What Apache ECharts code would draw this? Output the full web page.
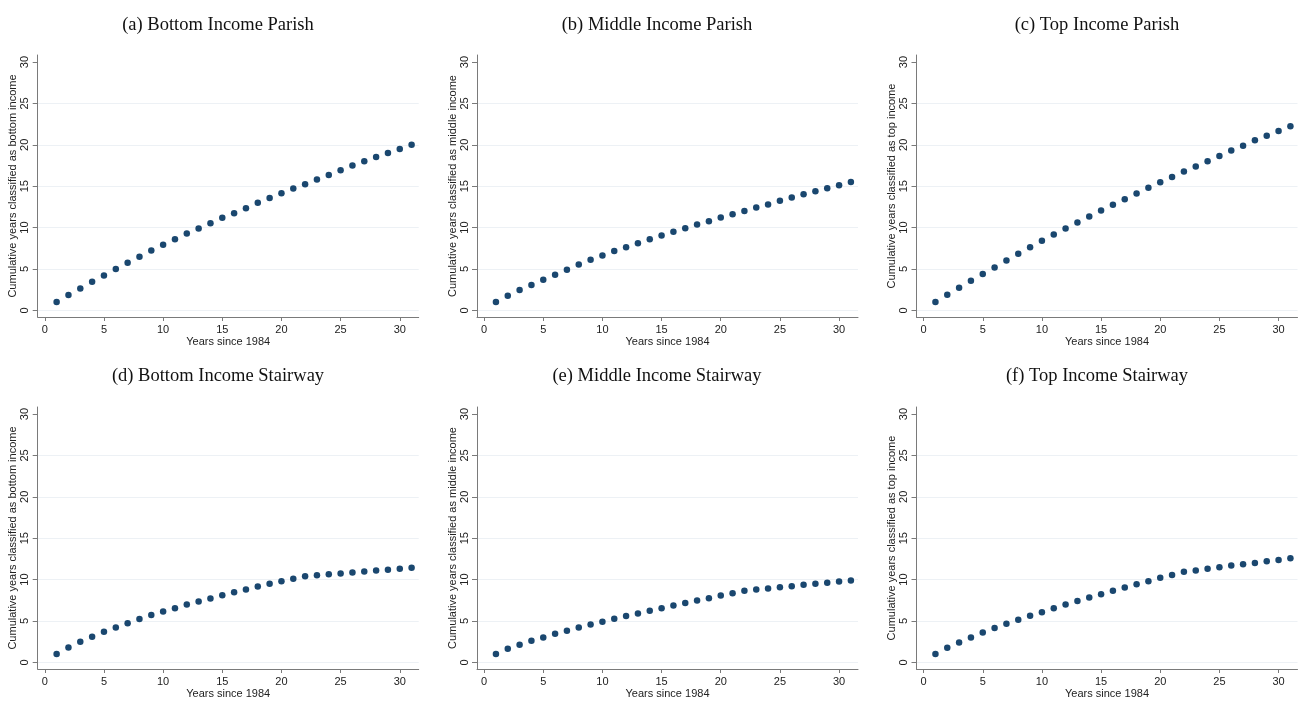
<!DOCTYPE html>
<html>
<head>
<meta charset="utf-8">
<script src="https://cdn.jsdelivr.net/npm/echarts@6/dist/echarts.min.js"></script>
<style>
html,body{margin:0;padding:0;background:#fff;}
#chart{width:1306px;height:707px;}
</style>
</head>
<body>
<div id="chart"></div>
<script>
// ---------- data ----------
const years = [1,2,3,4,5,6,7,8,9,10,11,12,13,14,15,16,17,18,19,20,21,22,23,24,25,26,27,28,29,30,31];
const bottomParish = [1.0,1.85,2.65,3.46,4.22,4.99,5.75,6.47,7.24,7.92,8.60,9.29,9.89,10.53,11.18,11.74,12.34,12.99,13.59,14.15,14.72,15.24,15.80,16.36,16.93,17.49,18.01,18.54,19.02,19.50,20.02];
const middleParish = [1.0,1.77,2.45,3.06,3.70,4.30,4.91,5.55,6.11,6.63,7.16,7.64,8.12,8.60,9.05,9.49,9.93,10.37,10.78,11.22,11.62,12.02,12.42,12.79,13.23,13.63,14.03,14.39,14.76,15.12,15.52];
const topParish = [1.0,1.89,2.73,3.58,4.38,5.19,6.03,6.84,7.64,8.40,9.17,9.89,10.62,11.34,12.06,12.75,13.43,14.11,14.80,15.48,16.12,16.77,17.37,18.01,18.66,19.30,19.90,20.55,21.11,21.67,22.24];
const bottomStairway = [1.0,1.81,2.49,3.10,3.70,4.22,4.74,5.23,5.71,6.15,6.55,7.00,7.36,7.72,8.12,8.48,8.81,9.17,9.49,9.81,10.09,10.41,10.53,10.66,10.74,10.86,10.98,11.10,11.18,11.30,11.42];
const middleStairway = [1.0,1.65,2.13,2.61,3.02,3.46,3.82,4.22,4.58,4.91,5.27,5.59,5.91,6.23,6.55,6.88,7.16,7.48,7.76,8.08,8.36,8.64,8.81,8.93,9.09,9.21,9.37,9.49,9.61,9.77,9.89];
const topStairway = [1.0,1.77,2.41,3.02,3.62,4.14,4.66,5.15,5.63,6.07,6.55,7.00,7.40,7.84,8.24,8.64,9.05,9.45,9.81,10.21,10.57,10.94,11.10,11.30,11.50,11.70,11.86,12.02,12.22,12.38,12.59];
const panelTitles = ["(a) Bottom Income Parish","(b) Middle Income Parish","(c) Top Income Parish","(d) Bottom Income Stairway","(e) Middle Income Stairway","(f) Top Income Stairway"];
const yTitles = ["Cumulative years classified as bottom income","Cumulative years classified as middle income","Cumulative years classified as top income","Cumulative years classified as bottom income","Cumulative years classified as middle income","Cumulative years classified as top income"];
const xTitle = "Years since 1984";
const xTicks = [0,5,10,15,20,25,30];
const yTicks = [0,5,10,15,20,25,30];
const seriesList = [bottomParish, middleParish, topParish, bottomStairway, middleStairway, topStairway];

// ---------- layout ----------
const colLeft = [37.7, 477, 916.5];
const colTitleX = [213, 652, 1092];
const rowTop = [55, 407];
const rowTitleTop = [11, 362];
const plotW = 381, plotH = 262;
const textColor = '#222';
const axisColor = '#7a7a7a';
const gridColor = '#edf1f5';
const dotColor = '#1a476f';

const grids = [], xAxes = [], yAxes = [], series = [], titles = [];
for (let i = 0; i < 6; i++) {
  const r = Math.floor(i / 3), c = i % 3;
  grids.push({left: colLeft[c], top: rowTop[r], width: plotW, height: plotH, containLabel: false});
  titles.push({
    text: panelTitles[i], left: colTitleX[c], top: rowTitleTop[r], textAlign: 'center',
    textStyle: {fontFamily: '"Liberation Serif","Times New Roman",serif', fontSize: 18.5, fontWeight: 'normal', color: '#111'}
  });
  xAxes.push({
    type: 'value', gridIndex: i, min: -0.6, max: 31.6,
    name: xTitle, nameLocation: 'middle', nameGap: 19,
    nameTextStyle: {fontFamily: '"Liberation Sans",Arial,sans-serif', fontSize: 11, color: textColor},
    axisLine: {show: true, onZero: false, lineStyle: {color: axisColor, width: 1}},
    axisTick: {show: true, inside: false, length: 4, customValues: xTicks, lineStyle: {color: axisColor}},
    axisLabel: {show: true, customValues: xTicks, margin: 7, fontFamily: '"Liberation Sans",Arial,sans-serif', fontSize: 11, color: textColor},
    splitLine: {show: false}
  });
  yAxes.push({
    type: 'value', gridIndex: i, min: -0.8, max: 30.85,
    name: yTitles[i], nameLocation: 'middle', nameGap: 19, nameRotate: 90,
    nameTextStyle: {fontFamily: '"Liberation Sans",Arial,sans-serif', fontSize: 11, color: textColor},
    axisLine: {show: true, onZero: false, lineStyle: {color: axisColor, width: 1}},
    axisTick: {show: true, inside: false, length: 5, customValues: yTicks, lineStyle: {color: axisColor}},
    axisLabel: {show: true, rotate: 90, customValues: yTicks, margin: 7, fontFamily: '"Liberation Sans",Arial,sans-serif', fontSize: 11, color: textColor},
    splitLine: {show: true, lineStyle: {color: [gridColor, gridColor, gridColor, gridColor, gridColor, gridColor, 'rgba(0,0,0,0)'], width: 1}}
  });
  series.push({
    type: 'scatter', xAxisIndex: i, yAxisIndex: i,
    symbol: 'circle', symbolSize: 6.5,
    itemStyle: {color: dotColor, opacity: 1},
    data: years.map((y, k) => [y, seriesList[i][k]]),
    animation: false
  });
}

const chart = echarts.init(document.getElementById('chart'), null, {renderer: 'canvas'});
chart.setOption({
  backgroundColor: '#ffffff',
  animation: false,
  title: titles,
  grid: grids,
  xAxis: xAxes,
  yAxis: yAxes,
  series: series
});
</script>
</body>
</html>
